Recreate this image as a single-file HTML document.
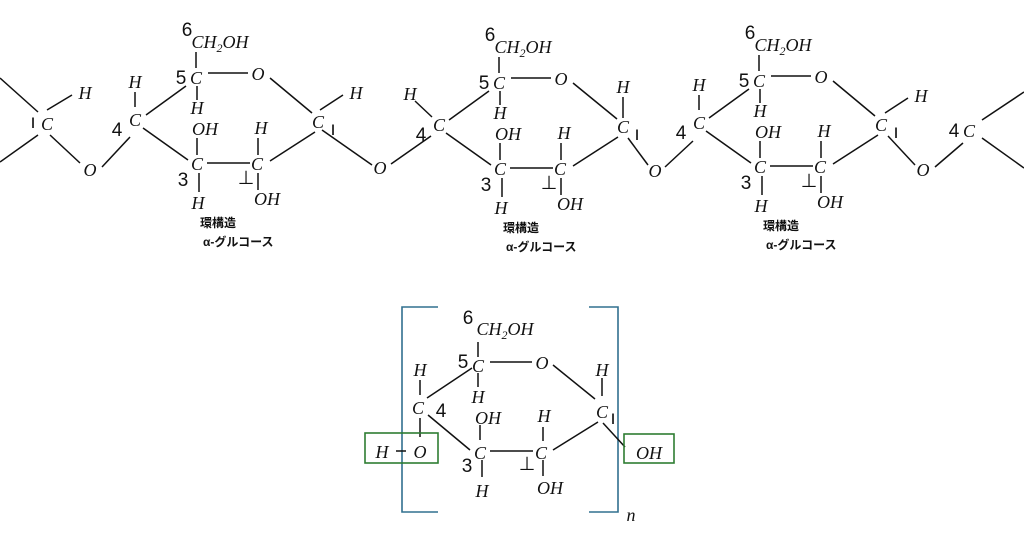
<!DOCTYPE html>
<html><head><meta charset="utf-8"><style>
html,body{margin:0;padding:0;background:#fff;}
svg{display:block;}
.t{font-family:"Liberation Serif",serif;font-style:italic;font-size:18px;fill:#111;text-anchor:middle;}
.s{font-size:12px;}
.d{font-family:"Liberation Sans",sans-serif;font-size:19px;fill:#111;text-anchor:middle;}
.j{font-family:"Liberation Sans","Noto Sans CJK JP",sans-serif;font-size:12px;font-weight:bold;fill:#111;}
line{stroke:#111;stroke-width:1.5;}
</style></head><body>
<svg width="1024" height="545" viewBox="0 0 1024 545" xmlns="http://www.w3.org/2000/svg">
<line x1="0" y1="78" x2="38" y2="112"/><line x1="0" y1="162" x2="38" y2="135"/>
<line x1="50" y1="135" x2="80" y2="163"/><line x1="47" y1="110" x2="72" y2="95"/>
<text class="t" x="47" y="130">C</text><text class="d" x="33" y="128">ı</text>
<text class="t" x="85" y="99">H</text>
<text class="t" x="90" y="176">O</text>
<line x1="102" y1="167" x2="130" y2="137"/>
<g>
<text class="d" x="187" y="36">6</text>
<text class="t" x="220" y="48">CH<tspan class="s" dy="4">2</tspan><tspan dy="-4">OH</tspan></text>
<line x1="196" y1="52" x2="196" y2="68"/>
<text class="t" x="196" y="84">C</text><text class="d" x="181" y="84">5</text>
<line x1="208" y1="73" x2="248" y2="73"/>
<text class="t" x="258" y="80">O</text>
<line x1="270" y1="78" x2="312" y2="113"/>
<text class="t" x="318" y="128">C</text><text class="d" x="333" y="135">ı</text>
<line x1="315" y1="132" x2="270" y2="161"/>
<text class="t" x="257" y="170">C</text><text class="d" x="246" y="184">⊥</text>
<line x1="258" y1="138" x2="258" y2="155"/><text class="t" x="261" y="134">H</text>
<line x1="258" y1="173" x2="258" y2="190"/><text class="t" x="267" y="205">OH</text>
<line x1="207" y1="163" x2="250" y2="163"/>
<text class="t" x="197" y="170">C</text><text class="d" x="183" y="186">3</text>
<line x1="197" y1="138" x2="197" y2="155"/><text class="t" x="205" y="135">OH</text>
<line x1="199" y1="173" x2="199" y2="192"/><text class="t" x="198" y="209">H</text>
<line x1="143" y1="128" x2="188" y2="160"/>
<text class="t" x="135" y="126">C</text><text class="d" x="117" y="136">4</text>
<line x1="146" y1="115" x2="186" y2="86"/>
<line x1="197" y1="86" x2="197" y2="100"/><text class="t" x="197" y="114">H</text>
<line x1="135" y1="92" x2="135" y2="107"/><text class="t" x="135" y="88">H</text>
<line x1="320" y1="110" x2="343" y2="95"/><text class="t" x="356" y="99">H</text>
<line x1="322" y1="130" x2="372" y2="165"/>
<text class="j" x="200" y="227">環構造</text><text class="j" x="203" y="246">α-グルコース</text>
</g>
<text class="t" x="380" y="174">O</text>
<line x1="391" y1="164" x2="431" y2="136"/>
<g transform="translate(303,5)">
<text class="d" x="187" y="36">6</text>
<text class="t" x="220" y="48">CH<tspan class="s" dy="4">2</tspan><tspan dy="-4">OH</tspan></text>
<line x1="196" y1="52" x2="196" y2="68"/>
<text class="t" x="196" y="84">C</text><text class="d" x="181" y="84">5</text>
<line x1="208" y1="73" x2="248" y2="73"/>
<text class="t" x="258" y="80">O</text>
<line x1="270" y1="78" x2="314" y2="114"/>
<text class="t" x="320" y="128">C</text><text class="d" x="334" y="135">ı</text>
<line x1="315" y1="132" x2="270" y2="161"/>
<text class="t" x="257" y="170">C</text><text class="d" x="246" y="184">⊥</text>
<line x1="258" y1="138" x2="258" y2="155"/><text class="t" x="261" y="134">H</text>
<line x1="258" y1="173" x2="258" y2="190"/><text class="t" x="267" y="205">OH</text>
<line x1="207" y1="163" x2="250" y2="163"/>
<text class="t" x="197" y="170">C</text><text class="d" x="183" y="186">3</text>
<line x1="197" y1="138" x2="197" y2="155"/><text class="t" x="205" y="135">OH</text>
<line x1="199" y1="173" x2="199" y2="192"/><text class="t" x="198" y="209">H</text>
<line x1="143" y1="128" x2="188" y2="160"/>
<text class="t" x="136" y="126">C</text><text class="d" x="118" y="136">4</text>
<line x1="146" y1="115" x2="186" y2="86"/>
<line x1="197" y1="86" x2="197" y2="100"/><text class="t" x="197" y="114">H</text>
<line x1="112" y1="96" x2="129" y2="112"/><text class="t" x="107" y="95">H</text>
<line x1="320" y1="92" x2="320" y2="113"/><text class="t" x="320" y="88">H</text>
<line x1="325" y1="133" x2="345" y2="160"/>
<text class="j" x="200" y="227">環構造</text><text class="j" x="203" y="246">α-グルコース</text>
</g>
<text class="t" x="655" y="177">O</text>
<line x1="665" y1="167" x2="693" y2="141"/>
<g transform="translate(563,3)">
<text class="d" x="187" y="36">6</text>
<text class="t" x="220" y="48">CH<tspan class="s" dy="4">2</tspan><tspan dy="-4">OH</tspan></text>
<line x1="196" y1="52" x2="196" y2="68"/>
<text class="t" x="196" y="84">C</text><text class="d" x="181" y="84">5</text>
<line x1="208" y1="73" x2="248" y2="73"/>
<text class="t" x="258" y="80">O</text>
<line x1="270" y1="78" x2="312" y2="113"/>
<text class="t" x="318" y="128">C</text><text class="d" x="333" y="135">ı</text>
<line x1="315" y1="132" x2="270" y2="161"/>
<text class="t" x="257" y="170">C</text><text class="d" x="246" y="184">⊥</text>
<line x1="258" y1="138" x2="258" y2="155"/><text class="t" x="261" y="134">H</text>
<line x1="258" y1="173" x2="258" y2="190"/><text class="t" x="267" y="205">OH</text>
<line x1="207" y1="163" x2="250" y2="163"/>
<text class="t" x="197" y="170">C</text><text class="d" x="183" y="186">3</text>
<line x1="197" y1="138" x2="197" y2="155"/><text class="t" x="205" y="135">OH</text>
<line x1="199" y1="173" x2="199" y2="192"/><text class="t" x="198" y="209">H</text>
<line x1="143" y1="128" x2="188" y2="160"/>
<text class="t" x="136" y="126">C</text><text class="d" x="118" y="136">4</text>
<line x1="146" y1="115" x2="186" y2="86"/>
<line x1="197" y1="86" x2="197" y2="100"/><text class="t" x="197" y="114">H</text>
<line x1="136" y1="92" x2="136" y2="107"/><text class="t" x="136" y="88">H</text>
<line x1="322" y1="110" x2="345" y2="95"/><text class="t" x="358" y="99">H</text>
<line x1="325" y1="133" x2="352" y2="162"/>
<text class="j" x="200" y="227">環構造</text><text class="j" x="203" y="246">α-グルコース</text>
</g>
<text class="t" x="923" y="176">O</text>
<line x1="935" y1="167" x2="963" y2="143"/>
<text class="t" x="969" y="137">C</text><text class="d" x="954" y="137">4</text>
<line x1="982" y1="120" x2="1024" y2="92"/><line x1="982" y1="138" x2="1024" y2="168"/>

<path d="M438 307 H402 V512 H438" fill="none" stroke="#31708f" stroke-width="1.6"/>
<path d="M589 307 H618 V512 H589" fill="none" stroke="#31708f" stroke-width="1.6"/>
<text class="t" x="631" y="521">n</text>
<text class="d" x="468" y="324">6</text>
<text class="t" x="505" y="335">CH<tspan class="s" dy="4">2</tspan><tspan dy="-4">OH</tspan></text>
<line x1="478" y1="342" x2="478" y2="357"/>
<text class="t" x="478" y="372">C</text><text class="d" x="463" y="368">5</text>
<line x1="490" y1="362" x2="532" y2="362"/>
<text class="t" x="542" y="369">O</text>
<line x1="553" y1="365" x2="595" y2="399"/>
<line x1="478" y1="373" x2="478" y2="387"/><text class="t" x="478" y="403">H</text>
<text class="t" x="602" y="418">C</text><text class="d" x="613" y="424">ı</text>
<line x1="602" y1="378" x2="602" y2="396"/><text class="t" x="602" y="376">H</text>
<line x1="603" y1="423" x2="625" y2="447"/>
<rect x="624" y="434" width="50" height="29" fill="none" stroke="#2e7d32" stroke-width="1.6"/>
<text class="t" x="649" y="459">OH</text>
<line x1="553" y1="450" x2="598" y2="422"/>
<text class="t" x="541" y="459">C</text><text class="d" x="527" y="470">⊥</text>
<line x1="543" y1="427" x2="543" y2="441"/><text class="t" x="544" y="422">H</text>
<line x1="543" y1="460" x2="543" y2="476"/><text class="t" x="550" y="494">OH</text>
<line x1="490" y1="451" x2="533" y2="451"/>
<text class="t" x="480" y="459">C</text><text class="d" x="467" y="472">3</text>
<line x1="480" y1="425" x2="480" y2="440"/><text class="t" x="488" y="424">OH</text>
<line x1="482" y1="460" x2="482" y2="477"/><text class="t" x="482" y="497">H</text>
<text class="t" x="418" y="414">C</text><text class="d" x="441" y="417">4</text>
<line x1="420" y1="380" x2="420" y2="395"/><text class="t" x="420" y="376">H</text>
<line x1="427" y1="398" x2="472" y2="368"/>
<line x1="428" y1="415" x2="470" y2="450"/>
<line x1="420" y1="418" x2="420" y2="437"/>
<rect x="365" y="433" width="73" height="30" fill="none" stroke="#2e7d32" stroke-width="1.6"/>
<text class="t" x="382" y="458">H</text>
<line x1="396" y1="451" x2="406" y2="451"/>
<text class="t" x="420" y="458">O</text>
</svg>
</body></html>
